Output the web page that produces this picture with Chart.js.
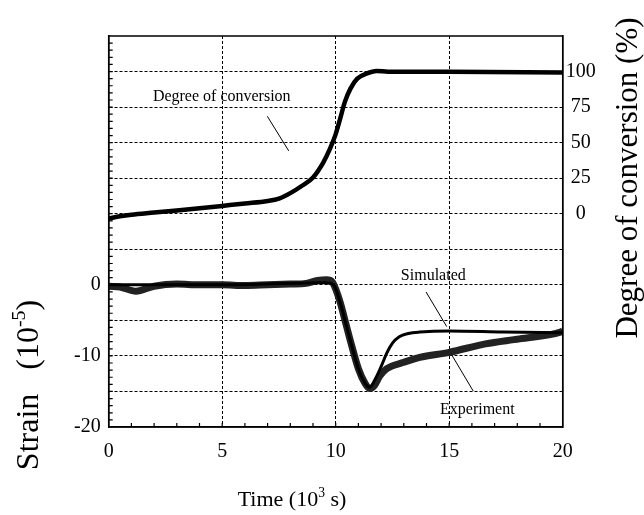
<!DOCTYPE html>
<html>
<head>
<meta charset="utf-8">
<script src="https://cdn.jsdelivr.net/npm/chart.js@4/dist/chart.umd.min.js"></script>
<style>
  body { margin: 0; background: #fff; }
  #wrap { width: 644px; height: 515px; }
</style>
</head>
<body>
<div id="wrap"><canvas id="myChart" width="644" height="515"></canvas></div>
<script>
// degree of conversion (%), right axis
const convTime = [0, 0.5, 1, 2, 3, 4, 5, 6, 7, 7.5, 8, 8.5, 9, 9.45, 9.75, 10, 10.2, 10.4, 10.65, 10.95, 11.35, 11.8, 12.3, 15, 20];
const convValue = [-3.3, -1.8, -0.7, 0.8, 2.3, 3.8, 5.5, 7.2, 9, 10.7, 14.5, 19.5, 25.5, 36, 45.8, 56, 67, 78.5, 88, 95, 98.5, 100.4, 99.9, 99.8, 99.4];

// strain (10^-5), left axis
const expTime = [0, 0.5, 1.2, 2, 3, 4, 5, 6, 7, 8, 8.7, 9.2, 9.6, 9.85, 10.0, 10.2, 10.45, 10.7, 11.0, 11.3, 11.5, 11.7, 11.95, 12.25, 13, 13.7, 15, 16.6, 18.1, 19.9, 20];
const expValue = [-0.2, -0.3, -0.9, -0.2, 0.1, 0, 0, -0.1, 0, 0.1, 0.2, 0.6, 0.7, 0.4, -0.6, -2.5, -5.5, -8.5, -11.8, -13.9, -14.6, -14.2, -12.8, -11.8, -10.9, -10.2, -9.5, -8.3, -7.6, -6.65, -6.5];

const simTime = [0, 5, 9.5, 9.9, 10.2, 10.45, 10.7, 11.0, 11.3, 11.5, 11.75, 12.0, 12.25, 12.5, 12.8, 13.2, 13.7, 15, 17.4, 20];
const simValue = [0, 0, 0.3, 0, -2.5, -5.5, -8.5, -11.8, -13.9, -14.4, -13.2, -11.5, -9.6, -8.2, -7.3, -6.85, -6.65, -6.5, -6.65, -6.75];

const strainLabels = [0, -10, -20];
const convLabels = [0, 25, 50, 75, 100];

// text notes with leader lines, in data units
const noteText = ['Degree of conversion', 'Simulated', 'Experiment'];
const noteAxis = ['y2', 'y', 'y'];
const noteX = [4.98, 14.3, 16.24];
const noteY = [82.2, 1.3, -17.6];
const leadX1 = [6.99, 13.98, 15.11];
const leadY1 = [68.5, -1.0, -9.85];
const leadX2 = [7.93, 14.89, 16.06];
const leadY2 = [44.2, -5.87, -14.95];

const serif = 'Liberation Serif';
Chart.defaults.font.family = serif;
Chart.defaults.color = '#000';

function pts(xs, ys) {
    return xs.map((x, i) => ({ x: x, y: ys[i] }));
}

// draws text pieces, some raised and smaller, centred on (cx, cy)
function richText(ctx, parts, cx, cy, size, angle) {
    ctx.save();
    ctx.translate(cx, cy);
    ctx.rotate(angle);
    ctx.textBaseline = 'middle';
    ctx.textAlign = 'left';
    let total = 0;
    parts.forEach(p => {
        ctx.font = (p.sup ? size * 0.62 : size) + 'px "' + serif + '"';
        total += ctx.measureText(p.t).width;
    });
    let x = -total / 2;
    parts.forEach(p => {
        ctx.font = (p.sup ? size * 0.62 : size) + 'px "' + serif + '"';
        ctx.fillText(p.t, x, p.sup ? -size * 0.32 : 0);
        x += ctx.measureText(p.t).width;
    });
    ctx.restore();
}

const decor = {
    id: 'decor',
    afterDatasetsDraw(chart) {
        const ctx = chart.ctx;
        const a = chart.chartArea;
        const sx = chart.scales.x, sy = chart.scales.y;
        ctx.save();
        // frame
        ctx.strokeStyle = '#000';
        ctx.lineWidth = 1.5;
        ctx.strokeRect(a.left, a.top, a.right - a.left, a.bottom - a.top);
        // inward minor ticks
        ctx.lineWidth = 1.2;
        ctx.beginPath();
        for (let v = 1; v < 20; v++) {
            const px = sx.getPixelForValue(v);
            ctx.moveTo(px, a.bottom);
            ctx.lineTo(px, a.bottom - 4);
        }
        for (let v = -19; v < 35; v++) {
            const py = sy.getPixelForValue(v);
            ctx.moveTo(a.left, py);
            ctx.lineTo(a.left + 4, py);
        }
        ctx.stroke();
        // notes
        ctx.lineWidth = 1;
        ctx.font = '16px "' + serif + '"';
        ctx.textAlign = 'center';
        ctx.textBaseline = 'middle';
        noteText.forEach((t, i) => {
            const ys = chart.scales[noteAxis[i]];
            ctx.fillText(t, sx.getPixelForValue(noteX[i]), ys.getPixelForValue(noteY[i]));
            ctx.beginPath();
            ctx.moveTo(sx.getPixelForValue(leadX1[i]), ys.getPixelForValue(leadY1[i]));
            ctx.lineTo(sx.getPixelForValue(leadX2[i]), ys.getPixelForValue(leadY2[i]));
            ctx.stroke();
        });
        ctx.restore();
        // axis titles
        ctx.fillStyle = '#000';
        richText(ctx, [{ t: 'Time (10' }, { t: '3', sup: true }, { t: ' s)' }], 292, 500, 22, 0);
        richText(ctx, [{ t: 'Strain   (10' }, { t: '-5', sup: true }, { t: ')' }], 30, 385, 32, -Math.PI / 2);
        richText(ctx, [{ t: 'Degree of conversion (%)' }], 629, 178, 31, -Math.PI / 2);
    }
};

const gridColor = (lo, hi) => c => (c.tick.value === lo || c.tick.value === hi) ? 'rgba(0,0,0,0)' : '#000';

new Chart(document.getElementById('myChart').getContext('2d'), {
    type: 'line',
    data: {
        datasets: [{
            label: 'Degree of conversion',
            data: pts(convTime, convValue),
            yAxisID: 'y2',
            borderColor: '#000',
            borderWidth: 4.5,
            pointRadius: 0,
            cubicInterpolationMode: 'monotone'
        }, {
            label: 'Simulated',
            data: pts(simTime, simValue),
            yAxisID: 'y',
            borderColor: '#000',
            borderWidth: 3,
            pointRadius: 0,
            cubicInterpolationMode: 'monotone'
        }, {
            label: 'Experiment',
            data: pts(expTime, expValue),
            yAxisID: 'y',
            borderColor: '#222',
            borderWidth: 7,
            pointRadius: 0,
            cubicInterpolationMode: 'monotone'
        }]
    },
    options: {
        responsive: false,
        animation: false,
        layout: { padding: { left: 0, right: 44.7, top: 36, bottom: 0 } },
        plugins: { legend: { display: false }, tooltip: { enabled: false } },
        scales: {
            x: {
                type: 'linear',
                min: 0,
                max: 20,
                ticks: { stepSize: 5, font: { size: 20 }, padding: 13, maxRotation: 0 },
                grid: { color: gridColor(0, 20), lineWidth: 1, drawTicks: false },
                border: { display: true, color: '#000', width: 1.5, dash: [3, 2] },
                afterFit: s => { s.height = 88; }
            },
            y: {
                position: 'left',
                min: -20,
                max: 35,
                ticks: {
                    stepSize: 5,
                    font: { size: 20 },
                    padding: 8,
                    callback: v => strainLabels.includes(v) ? String(v) : ''
                },
                grid: { color: gridColor(-20, 35), lineWidth: 1, drawTicks: false },
                border: { display: true, color: '#000', width: 1.5, dash: [3, 2] },
                afterFit: s => { s.width = 108.7; }
            },
            y2: {
                position: 'right',
                min: -150,
                max: 125,
                ticks: {
                    stepSize: 25,
                    font: { size: 20 },
                    padding: 3,
                    crossAlign: 'center',
                    callback: v => convLabels.includes(v) ? String(v) : ''
                },
                grid: { display: false, drawTicks: false },
                border: { display: true, color: '#000', width: 1.5 },
                afterFit: s => { s.width = 36.6; }
            }
        }
    },
    plugins: [decor]
});
</script>
</body>
</html>
